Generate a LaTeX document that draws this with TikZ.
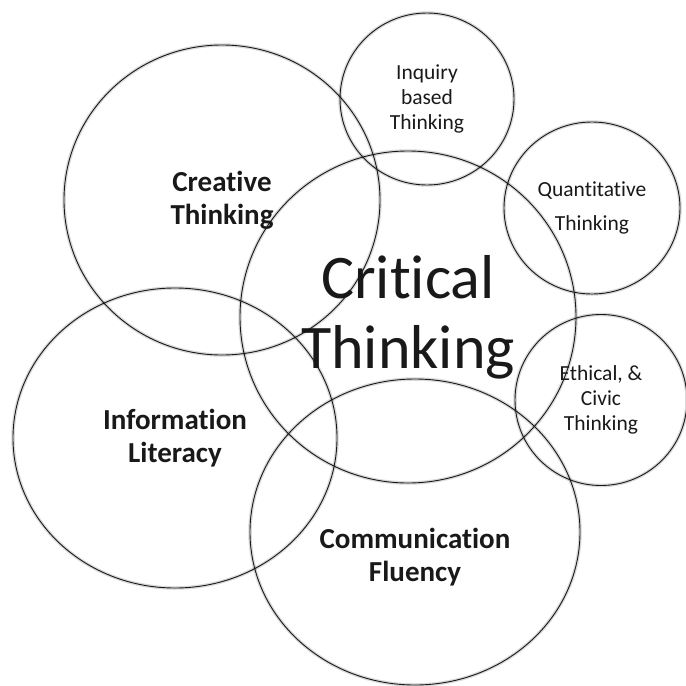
\documentclass[tikz,border=0pt]{standalone}
\usepackage{fontspec}
\setmainfont{Carlito}[RawFeature={-liga}]
\usetikzlibrary{shapes.geometric}

\begin{document}
\begin{tikzpicture}[x=1pt, y=-1pt,
    bubble/.style = {ellipse, draw=black!90, line width=0.9pt, inner sep=0pt, text=black!90, align=center,
        preaction={draw=black, draw opacity=0.15, line width=3.5pt}},
    big/.style = {font=\fontsize{29}{33}\selectfont\bfseries},
    small/.style = {font=\fontsize{21.5}{25}\selectfont}]
  \useasboundingbox (0,0) rectangle (686,686);

  % main circle
  \node[bubble, minimum width=336pt, minimum height=332pt, font=\fontsize{62}{70}\selectfont] (crit) at (408,317) {Critical\\Thinking};

  % large circles
  \node[bubble, big, minimum width=316pt, minimum height=310pt] (creat) at (222,200) {Creative\\Thinking};
  \node[bubble, big, minimum width=324pt, minimum height=300pt] (info) at (175,438) {Information\\Literacy};
  \node[bubble, minimum width=330pt, minimum height=306pt] (comm) at (415,532) {};
  \node[big, align=center, text=black!90] (commtext) at (415,557) {Communication\\Fluency};

  % small circles
  \node[bubble, small, minimum width=174pt, minimum height=172pt] (inq) at (427,99) {Inquiry\\based\\Thinking};
  \node[bubble, small, font=\fontsize{21.5}{34}\selectfont, minimum width=176pt, minimum height=172pt] (quant) at (592,208) {Quantitative\\Thinking};
  \node[bubble, small, minimum width=172pt, minimum height=171pt] (eth) at (601,400) {Ethical, \&\\Civic\\Thinking};
\end{tikzpicture}
\end{document}
